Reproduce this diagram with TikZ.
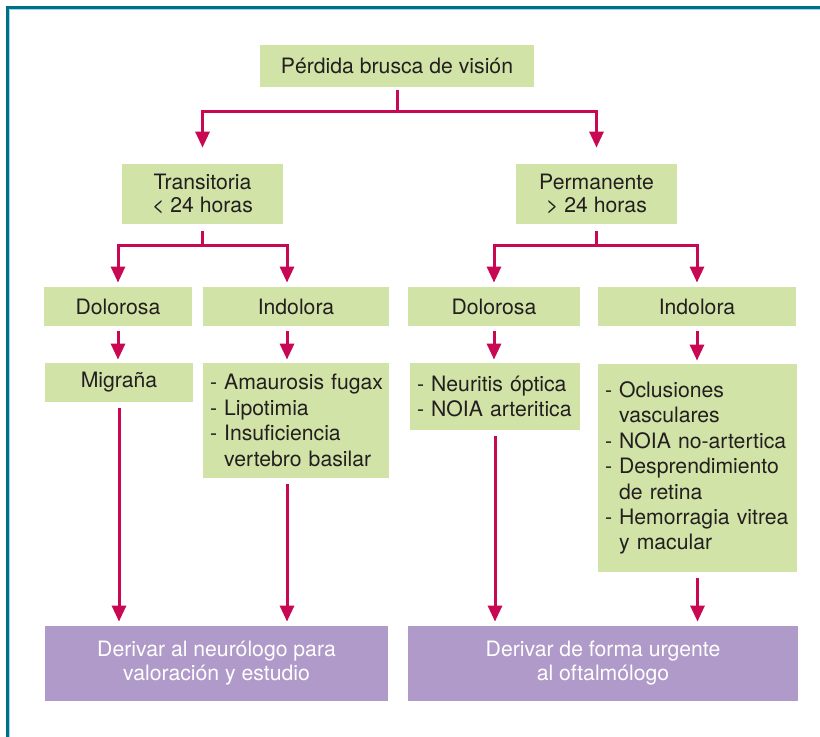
\documentclass[tikz,border=0pt]{standalone}
\usepackage{fontspec}
\setmainfont{TeX Gyre Heros}
\usetikzlibrary{arrows.meta}
\definecolor{boxgreen}{RGB}{209,227,166}
\definecolor{boxpurple}{RGB}{176,154,201}
\definecolor{flowred}{RGB}{200,8,82}
\definecolor{frameteal}{RGB}{0,111,136}
\definecolor{framelight}{RGB}{165,215,228}
\definecolor{textdark}{RGB}{35,31,32}
\newcommand\listnobreak{\hyphenpenalty10000\relax\exhyphenpenalty10000\relax}
\tikzset{
  box/.style={fill=boxgreen, text=textdark, inner sep=0pt, align=center, font=\fontsize{10.6}{11.8}\selectfont},
  listbox/.style={box, inner xsep=3.5pt, align=left, font=\fontsize{10.6}{12.7}\selectfont\listnobreak},
  endbox/.style={fill=boxpurple, text=white, inner sep=0pt, align=center, font=\fontsize{10.6}{12}\selectfont},
  flow/.style={draw=flowred, line width=1.5pt, -{Triangle[width=7pt,length=8pt]}},
}

\begin{document}
\begin{tikzpicture}[x=0.5pt,y=-0.5pt]
    \fill[white] (0,0) rectangle (820,737);
    \useasboundingbox (0,0) rectangle (820,737);
    \draw[frameteal, line width=1.5pt] (7.5,737) -- (7.5,7.5) -- (820,7.5);
    \draw[framelight, line width=0.5pt] (9.75,737) -- (9.75,9.75) -- (820,9.75);

    \node[box, minimum width=137pt, minimum height=21pt] (perdida) at (397,66) {Pérdida brusca de visión};
    \node[box, minimum width=80.5pt, minimum height=30pt] (trans) at (202.5,194) {Transitoria\\< 24 horas};
    \node[box, minimum width=80.5pt, minimum height=30pt] (perm) at (596.5,194) {Permanente\\> 24 horas};

    \node[box, minimum width=74pt, minimum height=19.5pt] (dolT) at (118,306.5) {Dolorosa};
    \node[box, minimum width=93pt, minimum height=19.5pt] (indT) at (296,306.5) {Indolora};
    \node[box, minimum width=86pt, minimum height=19.5pt] (dolP) at (494,306.5) {Dolorosa};
    \node[box, minimum width=99pt, minimum height=19.5pt] (indP) at (697,306.5) {Indolora};

    \node[box, minimum width=74pt, minimum height=19.5pt] (migrana) at (119,382.5) {Migraña};
    \node[listbox, text width=86pt, minimum height=57.5pt] (amaurosis) at (296,420.5)
        {-~Amaurosis~fugax\\-~Lipotimia\\-~Insuficiencia\\\phantom{- }vertebro~basilar};
    \node[listbox, text width=78pt, minimum height=33.5pt] (neuritis) at (495,396.5)
        {-~Neuritis~óptica\\-~NOIA~arteritica};
    \node[listbox, text width=92.5pt, minimum height=104pt] (oclusiones) at (697.5,468)
        {-~Oclusiones\\\phantom{- }vasculares\\-~NOIA~no-artertica\\-~Desprendimiento\\\phantom{- }de~retina\\-~Hemorragia~vitrea\\\phantom{- }y~macular};

    \node[endbox, minimum width=171.5pt, minimum height=37.5pt] (neurologo) at (216.5,663.5) {Derivar al neurólogo para\\valoración y estudio};
    \node[endbox, minimum width=195pt, minimum height=37.5pt] (oftalmologo) at (603,663.5) {Derivar de forma urgente\\al oftalmólogo};

    % connectors
    \coordinate (colB) at (287,0);
    \draw[flow, shorten <=1.5pt, shorten >=8pt] (perdida.south) -- ++(0,24) -| (trans.north);
    \draw[flow, shorten <=1.5pt, shorten >=8pt] (perdida.south) -- ++(0,24) -| (perm.north);
    \draw[flow, shorten <=3.5pt, shorten >=2pt] (trans.south) -- ++(0,21) -| (dolT.north);
    \draw[flow, shorten <=3.5pt, shorten >=2pt] (trans.south) -- ++(0,21) -| (colB |- indT.north);
    \draw[flow, shorten <=3.5pt, shorten >=2pt] (perm.south) -- ++(0,21) -| (dolP.north);
    \draw[flow, shorten <=3.5pt, shorten >=2pt] (perm.south) -- ++(0,21) -| (indP.north);

    \draw[flow, shorten <=2.5pt, shorten >=1.5pt] (dolT.south) -- (dolT.south |- migrana.north);
    \draw[flow, shorten <=2.5pt, shorten >=1.5pt] (colB |- indT.south) -- (colB |- amaurosis.north);
    \draw[flow, shorten <=2.5pt, shorten >=1.5pt] (dolP.south) -- (dolP.south |- neuritis.north);
    \draw[flow, shorten <=2.5pt, shorten >=1.5pt] (indP.south) -- (indP.south |- oclusiones.north);

    \draw[flow, shorten <=3pt, shorten >=2pt] (migrana.south) -- (migrana.south |- neurologo.north);
    \draw[flow, shorten <=3pt, shorten >=2pt] (colB |- amaurosis.south) -- (colB |- neurologo.north);
    \draw[flow, shorten <=3pt, shorten >=2pt] (neuritis.south) -- (neuritis.south |- oftalmologo.north);
    \draw[flow, shorten <=3pt, shorten >=2pt] (oclusiones.south) -- (oclusiones.south |- oftalmologo.north);
\end{tikzpicture}
\end{document}
